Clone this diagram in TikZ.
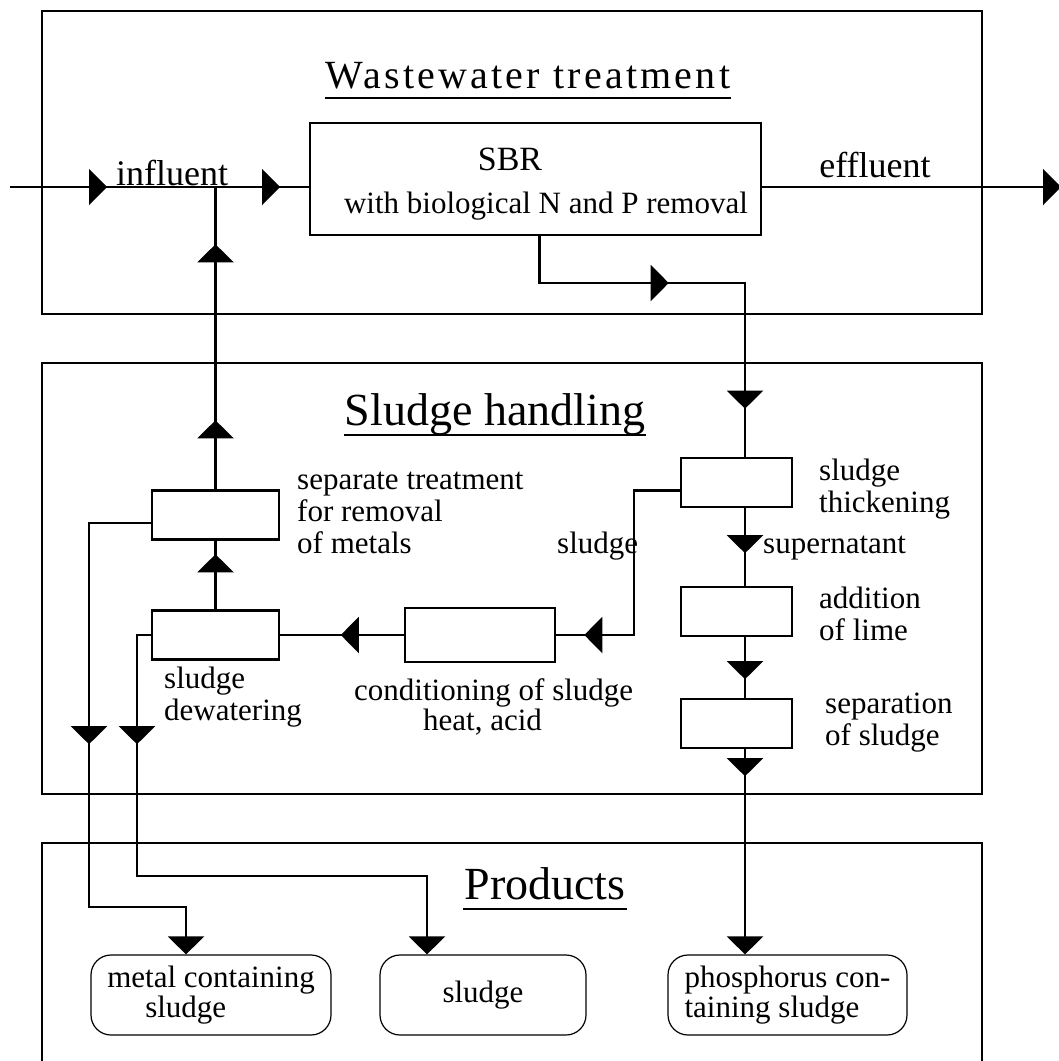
\documentclass[tikz,border=0pt]{standalone}
\usepackage{fontspec}
\setmainfont{Liberation Serif}
\newfontfamily\wwfont[LetterSpace=8]{Liberation Serif}
\usetikzlibrary{arrows.meta,decorations.markings}
\tikzset{flowtip/.tip={Triangle[length=18pt,width=36pt]}}

\begin{document}
\begin{tikzpicture}[x=1pt,y=-1pt,line width=2.4pt,
  box/.style={draw,minimum width=#1,minimum height=49pt,inner sep=0pt},
  box/.default=111pt,
  prod/.style={draw,line width=1.2pt,rounded corners=20pt,minimum width=#1,
    minimum height=80pt,inner sep=0pt,font=\fontsize{31}{30}\selectfont},
  lab/.style={anchor=base west,align=left,inner sep=0pt,font=\fontsize{31}{32}\selectfont},
  ttl/.style={anchor=base,inner sep=0pt,font=\fontsize{46}{46}\selectfont},
  flowmark/.style={postaction={decorate,decoration={markings,
    mark=at position #1 with {\arrow{flowtip}}}}}]
  \useasboundingbox (0,0) rectangle (1059,1061);
  % the three zones
  \draw (42,11) rectangle (982,314);
  \draw (42,363) rectangle (982,794);
  \draw (42,843) rectangle (982,1075);
  \node[ttl,font=\wwfont\fontsize{40}{40}\selectfont] (wwt) at (528,88) {Wastewater treatment};
  \node[ttl] (sht) at (495,425) {Sludge handling};
  \node[ttl] (prt) at (545,899) {Products};
  \foreach \t in {wwt,sht,prt}
    \draw[line width=1.8pt] ([yshift=-10pt]\t.base west) -- ([yshift=-10pt]\t.base east);

  \coordinate (infl) at (10,187);
  \coordinate (jn) at (215.5,187);
  \coordinate (effl) at (1061,187);
  \coordinate (sbrbend) at (745,283);
  \coordinate (sldbend) at (634,635);
  \coordinate (mbend) at (89,907);
  \coordinate (sbend) at (137,876);

  % wastewater treatment
  \node[draw,minimum width=451pt,minimum height=112pt,inner sep=0pt] (sbr) at (535.5,179) {};
  \node[anchor=base,font=\fontsize{34}{34}\selectfont] (sbrt) at (510,170) {SBR};
  \node[anchor=base,font=\fontsize{31}{31}\selectfont] (sbrs) at (546,213) {with biological N and P removal};
  \node[anchor=base,font=\fontsize{36}{36}\selectfont] (infll) at (172,185) {influent};
  \node[anchor=base,font=\fontsize{36}{36}\selectfont] (effll) at (875,177) {effluent};

  % sludge handling
  \foreach \n/\y in {thk/482.5,lim/611.5,sep/723.5}
    \node[box] (\n) at (736.5,\y) {};
  \node[box=127pt] (sept) at (215.5,515) {};
  \node[box=127pt] (dew) at (215.5,635) {};
  \node[box=150pt,minimum height=54pt] (cond) at (480,635) {};

  \node[lab] (septl) at (296,553) {separate treatment\\for removal\\of metals};
  \node[lab] (dewl) at (163,720) {sludge\\dewatering};
  \node[lab,font=\fontsize{31}{27}\selectfont] (condl) at (353,730)
    {conditioning of sludge\\\hspace*{69pt}heat, acid};
  \node[lab] (sldl) at (556,553) {sludge};
  \node[lab] (supl) at (762,553) {supernatant};
  \foreach \n/\x/\y/\t in {thkl/818/512/{sludge\\thickening},
      liml/818/640/{addition\\of lime},sepl/824/745/{separation\\of sludge}}
    \node[lab] (\n) at (\x,\y) {\t};

  % products
  \node[prod=240pt,align=left] (metal) at (211,995) {metal containing\\\hspace*{38pt}sludge};
  \node[prod=206pt] (prsl) at (483,995) {sludge};
  \node[prod=239pt,align=left] (phos) at (787.5,995) {phosphorus con-\\taining sludge};

  % flows
  \draw[flowmark=97pt,flowmark=270pt] (infl) -- (sbr.west |- infl);
  \draw[-flowtip] (sbr.east |- effl) -- (effl);
  \draw[flowmark=176pt,flowmark=378pt] ([xshift=4pt]sbr.south) |- (sbrbend) -- (sbrbend |- thk.north);
  \draw[flowmark=45pt] (sbrbend |- thk.south) -- (sbrbend |- lim.north);
  \draw[flowmark=42pt] (sbrbend |- lim.south) -- (sbrbend |- sep.north);
  \draw[flowmark=27pt,-flowtip] (sbrbend |- sep.south) -- (sbrbend |- phos.north);
  \draw[flowmark=240pt] ([yshift=-8pt]thk.west) -| (sldbend) -- (cond.east);
  \draw[flowmark=63pt] (cond.west) -- (dew.east);
  \draw[flowmark=55pt] (dew.north) -- (sept.south);
  \draw[flowmark=69pt,flowmark=245pt] (sept.north) -- (jn);
  \draw[flowmark=283pt,-flowtip] ([yshift=-8pt]sept.west) -| (mbend) -| ([xshift=-25pt]metal.north);
  \draw[flowmark=123pt,-flowtip] (dew.west) -| (sbend) -| ([xshift=-56pt]prsl.north);
\end{tikzpicture}
\end{document}
